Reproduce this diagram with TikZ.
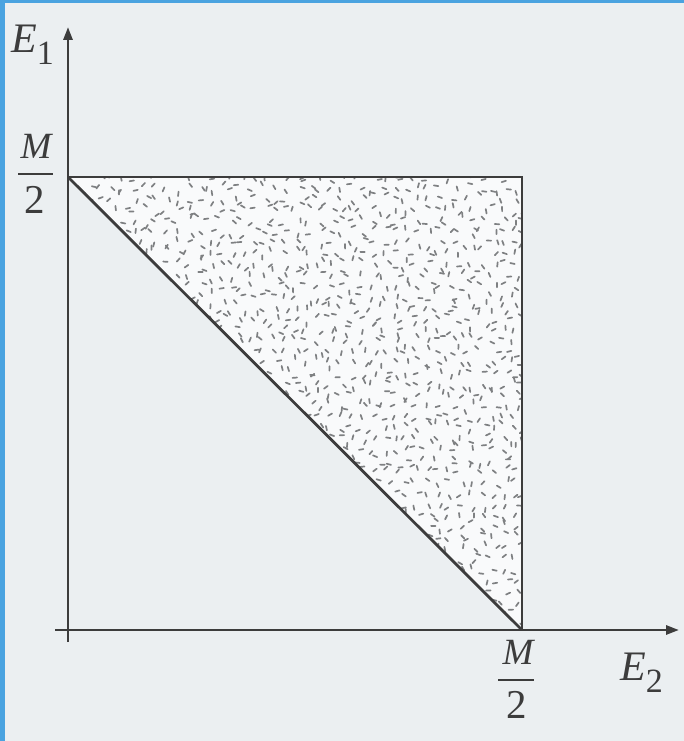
\documentclass[tikz,border=0pt]{standalone}
\usepackage{fontspec}
\setmainfont{Liberation Serif}
\usetikzlibrary{arrows.meta}
\definecolor{bgc}{HTML}{EBEFF1}
\definecolor{framec}{HTML}{4AA3E0}
\definecolor{axc}{HTML}{3C3C3C}
\definecolor{dashc}{HTML}{7E8082}
\definecolor{fillc}{HTML}{F9FAFB}
\newcommand{\bigE}[1]{{\fontsize{42}{44}\selectfont\itshape E}\raisebox{-12pt}{\fontsize{34}{34}\selectfont #1}}
\tikzset{
  axis/.style={draw=axc, line width=2.8pt, -{Triangle[length=13pt,width=9pt]}},
  edge/.style={draw=axc, line width=2.8pt},
  dashmark/.style={draw=dashc, line width=1.7pt, line cap=round},
  fracbar/.style={draw=axc, line width=1.8pt},
  biglab/.style={inner sep=0pt, text=axc, anchor=base west},
  numlab/.style={inner sep=0pt, text=axc, anchor=base, font=\fontsize{37}{38}\selectfont\itshape},
  denlab/.style={inner sep=0pt, text=axc, anchor=base, font=\fontsize{41}{42}\selectfont},
}
\begin{document}
\begin{tikzpicture}[x=1pt,y=-1pt]
\useasboundingbox (0,0) rectangle (684,741);
\fill[bgc] (0,0) rectangle (684,741);
\fill[framec] (0,0) rectangle (684,3.5);
\fill[framec] (0,0) rectangle (5,741);
% vertices
\coordinate (A) at (68,177);
\coordinate (B) at (522,177);
\coordinate (C) at (522,630);
\coordinate (O) at (68,630);
\coordinate (ybot) at (68,642);
\coordinate (ytop) at (68,27);
\coordinate (xleft) at (55,630);
\coordinate (xright) at (679,630);
% shaded triangle
\fill[fillc] (A) -- (B) -- (C) -- cycle;
\begin{scope}
\clip (A) -- (B) -- (C) -- cycle;
\pgfmathsetseed{12345}
\foreach \i in {0,...,42}{
  \foreach \j in {0,...,42}{
    \pgfmathsetmacro{\xx}{68+10.9*\i+9*rnd-4.5}
    \pgfmathsetmacro{\yy}{177+10.9*\j+9*rnd-4.5}
    \pgfmathsetmacro{\aa}{360*rnd}
    \draw[dashmark] (\xx,\yy) -- ++(\aa:4.5);
  }
}
\end{scope}
% outline
\draw[edge] (A) -- (B) -- (C);
\draw[edge] (A) -- (C);
% axes
\draw[axis] (ybot) -- (ytop);
\draw[axis] (xleft) -- (xright);
% labels
\node[biglab] (E1) at (11,53) {\bigE{1}};
\node[biglab] (E2) at (620,680) {\bigE{2}};
% M/2 on the vertical axis
\node[numlab] (MlN) at (36,158) {M};
\coordinate (MlbarL) at (18,174);
\coordinate (MlbarR) at (53,174);
\draw[fracbar] (MlbarL) -- (MlbarR);
\node[denlab] (MlD) at (35,213) {2};
% M/2 on the horizontal axis
\node[numlab] (MbN) at (518,664) {M};
\coordinate (MbbarL) at (498,680);
\coordinate (MbbarR) at (534,680);
\draw[fracbar] (MbbarL) -- (MbbarR);
\node[denlab] (MbD) at (517,718) {2};
\end{tikzpicture}
\end{document}
